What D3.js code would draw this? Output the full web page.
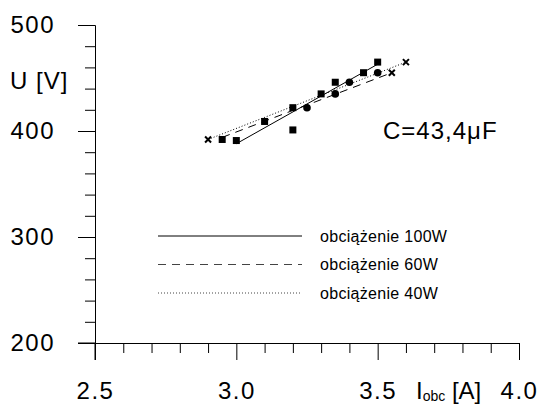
<!DOCTYPE html>
<html>
<head>
<meta charset="utf-8">
<script src="https://cdn.jsdelivr.net/npm/d3@7"></script>
<style>
  body { margin: 0; background: #fff; }
  text { font-family: "Liberation Sans", Arial, sans-serif; fill: #000; }
</style>
</head>
<body>
<div id="container"></div>
<script>
const w = 542,
  h = 405;

// measured points, current [A] and voltage [V]
const series100I = [2.95, 3.0, 3.1, 3.2, 3.2, 3.3, 3.35, 3.45, 3.5];
const series100U = [392, 391, 409, 422, 401, 435, 446, 455, 465];
const series60I = [3.25, 3.35, 3.4, 3.5];
const series60U = [422, 435, 446, 455];
const series40I = [2.9, 3.55, 3.6];
const series40U = [392, 455, 465];

// fitted lines (start / end)
const fit100 = [[3.0, 388], [3.5, 463]];
const fit60 = [[2.95, 394], [3.55, 455]];
const fit40 = [[2.9, 392], [3.6, 465]];

const legendLabels = ['obciążenie 100W', 'obciążenie 60W', 'obciążenie 40W'];
const xTicks = [2.5, 3.0, 3.5, 4.0];
const yTicks = [200, 300, 400, 500];

const svg = d3
  .select('#container')
  .append('svg')
  .attr('width', w)
  .attr('height', h);

const xScale = d3.scaleLinear().domain([2.5, 4.0]).range([95, 519]);
const yScale = d3.scaleLinear().domain([200, 500]).range([343, 25]);

// x axis
const xAxisMinor = d3
  .axisBottom(xScale)
  .tickValues(d3.range(26, 40).map((d) => d / 10).filter((d) => Math.round(d * 10) % 5 !== 0))
  .tickSize(10)
  .tickSizeOuter(0)
  .tickFormat('');
const xAxisMajor = d3
  .axisBottom(xScale)
  .tickValues(xTicks)
  .tickSize(17)
  .tickSizeOuter(0)
  .tickFormat(d3.format('.1f'));

svg.append('g').attr('transform', 'translate(0,' + yScale(200) + ')').call(xAxisMinor);
const gx = svg.append('g').attr('transform', 'translate(0,' + yScale(200) + ')').call(xAxisMajor);
gx.selectAll('.tick text')
  .attr('y', 39)
  .attr('dy', '0.71em')
  .style('font-size', '24px')
  .style('letter-spacing', '1.5px');

// y axis
const yAxisMinor = d3
  .axisLeft(yScale)
  .tickValues(d3.range(220, 500, 20).filter((d) => d % 100 !== 0))
  .tickSize(10)
  .tickSizeOuter(0)
  .tickFormat('');
const yAxisMajor = d3
  .axisLeft(yScale)
  .tickValues(yTicks)
  .tickSize(17)
  .tickSizeOuter(0)
  .tickFormat(d3.format('d'));

svg.append('g').attr('transform', 'translate(' + xScale(2.5) + ',0)').call(yAxisMinor);
const gy = svg.append('g').attr('transform', 'translate(' + xScale(2.5) + ',0)').call(yAxisMajor);
gy.selectAll('.tick text')
  .attr('x', -40)
  .style('font-size', '24px')
  .style('letter-spacing', '1.5px');

svg.selectAll('.domain').attr('stroke', '#000');
svg.selectAll('.tick line').attr('stroke', '#000');

// axis corner: tick stubs of the origin
svg
  .append('line')
  .attr('x1', xScale(2.5))
  .attr('x2', xScale(2.5))
  .attr('y1', yScale(200))
  .attr('y2', yScale(200) + 17)
  .attr('stroke', '#000');
svg
  .append('line')
  .attr('x1', xScale(2.5) - 17)
  .attr('x2', xScale(2.5))
  .attr('y1', yScale(200))
  .attr('y2', yScale(200))
  .attr('stroke', '#000');

// axis titles
svg
  .append('text')
  .attr('x', 10)
  .attr('y', 89)
  .style('font-size', '24px')
  .style('letter-spacing', '1px')
  .text('U [V]');

const xt = svg
  .append('text')
  .attr('x', 416)
  .attr('y', 399)
  .style('font-size', '24px');
xt.append('tspan').text('I');
xt.append('tspan').attr('dy', 2).style('font-size', '14px').text('obc');
xt.append('tspan').attr('dy', -2).text(' [A]');

svg
  .append('text')
  .attr('x', 383)
  .attr('y', 139)
  .style('font-size', '24px')
  .style('letter-spacing', '1px')
  .text('C=43,4μF');

// fitted lines
const line = d3
  .line()
  .x((d) => xScale(d[0]))
  .y((d) => yScale(d[1]));

const styles = [
  { fit: fit100, dash: null },
  { fit: fit60, dash: '8,6' },
  { fit: fit40, dash: '1,2' },
];

styles.forEach((s) => {
  svg
    .append('path')
    .datum(s.fit)
    .attr('d', line)
    .attr('fill', 'none')
    .attr('stroke', '#000')
    .attr('stroke-width', 1)
    .attr('stroke-dasharray', s.dash);
});

// markers
const pts100 = series100I.map((d, i) => [d, series100U[i]]);
const pts60 = series60I.map((d, i) => [d, series60U[i]]);
const pts40 = series40I.map((d, i) => [d, series40U[i]]);

svg
  .selectAll('rect.p100')
  .data(pts100)
  .enter()
  .append('rect')
  .attr('class', 'p100')
  .attr('x', (d) => xScale(d[0]) - 3.5)
  .attr('y', (d) => yScale(d[1]) - 3.5)
  .attr('width', 7)
  .attr('height', 7)
  .attr('fill', '#000');

svg
  .selectAll('circle.p60')
  .data(pts60)
  .enter()
  .append('circle')
  .attr('class', 'p60')
  .attr('cx', (d) => xScale(d[0]))
  .attr('cy', (d) => yScale(d[1]))
  .attr('r', 3.8)
  .attr('fill', '#000');

svg
  .selectAll('path.p40')
  .data(pts40)
  .enter()
  .append('path')
  .attr('class', 'p40')
  .attr('d', 'M-3,-3L3,3M-3,3L3,-3')
  .attr('transform', (d) => 'translate(' + xScale(d[0]) + ',' + yScale(d[1]) + ')')
  .attr('stroke', '#000')
  .attr('stroke-width', 2);

// legend
const legend = svg.append('g');
legendLabels.forEach((label, i) => {
  const y = 236 + i * 28.5;
  legend
    .append('line')
    .attr('x1', 158)
    .attr('x2', 302)
    .attr('y1', y)
    .attr('y2', y)
    .attr('stroke', i === 0 ? '#000' : '#444')
    .attr('stroke-width', 1)
    .attr('stroke-dasharray', styles[i].dash);
  legend
    .append('text')
    .attr('x', 320)
    .attr('y', y)
    .attr('dy', '0.35em')
    .style('font-size', '16px')
    .style('letter-spacing', '0.3px')
    .text(label);
});
</script>
</body>
</html>
